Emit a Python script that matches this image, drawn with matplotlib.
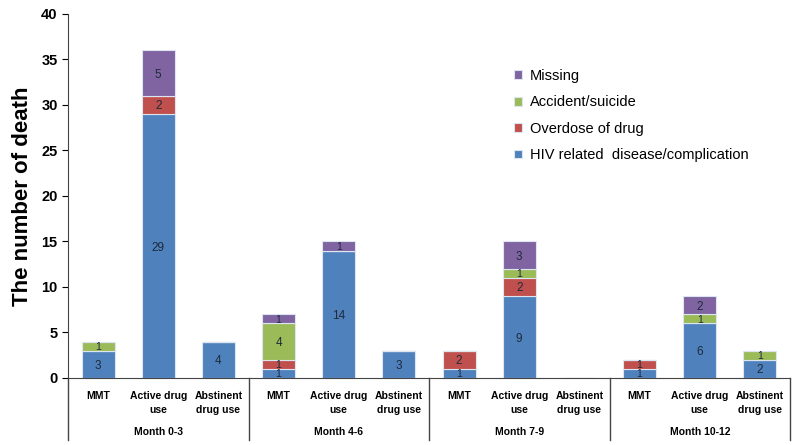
import matplotlib.pyplot as plt
import numpy as np

plt.rcParams["font.family"] = ["Liberation Sans", "DejaVu Sans"]

months = ["Month 0-3", "Month 4-6", "Month 7-9", "Month 10-12"]
groups = ["MMT", "Active drug\nuse", "Abstinent\ndrug use"]

# one value per bar: MMT, Active, Abstinent for each month in order
hiv      = [3, 29, 4,   1, 14, 3,   1, 9, 0,   1, 6, 2]
overdose = [0, 2, 0,    1, 0, 0,    2, 2, 0,   1, 0, 0]
accident = [1, 0, 0,    4, 0, 0,    0, 1, 0,   0, 1, 1]
missing  = [0, 5, 0,    1, 1, 0,    0, 3, 0,   0, 2, 0]

series = [
    ("HIV related  disease/complication", hiv, "#4F81BD"),
    ("Overdose of drug", overdose, "#C0504D"),
    ("Accident/suicide", accident, "#9BBB59"),
    ("Missing", missing, "#8064A2"),
]

fig = plt.figure(figsize=(8, 4.45), dpi=100)
ax = fig.add_axes([0.085, 0.1506, 0.9025, 0.818])

x = np.arange(len(hiv))
bottom = np.zeros(len(hiv))
handles = []
for name, vals, col in series:
    vals = np.array(vals, dtype=float)
    b = ax.bar(x, vals, 0.55, bottom=bottom, color=col, edgecolor="#dde6f0",
               linewidth=0.8, label=name)
    handles.append(b)
    for xi, v, b0 in zip(x, vals, bottom):
        if v > 0:
            # small segments get a slightly smaller label, like the original
            fs = 7.5 if v == 1 else 8.5
            ax.text(xi, b0 + v / 2, f"{int(v)}", ha="center", va="center_baseline",
                    fontsize=fs, color="#1f2a3a")
    bottom += vals

ax.set_xlim(-0.5, 11.5)
ax.set_ylim(0, 40)
ax.set_yticks(range(0, 41, 5))
ax.tick_params(axis="y", labelsize=10.5, length=4, direction="out")
for lab in ax.get_yticklabels():
    lab.set_fontweight("bold")
ax.set_xticks([])
ax.spines["top"].set_visible(False)
ax.spines["right"].set_visible(False)
ax.spines["left"].set_color("#444444")
ax.spines["bottom"].set_color("#444444")
ax.set_ylabel("The number of death", fontsize=16, fontweight="bold", labelpad=6)

tr = ax.get_xaxis_transform()
for i in range(12):
    ax.text(x[i], -0.035, groups[i % 3], transform=tr, ha="center", va="top",
            fontsize=7.5, fontweight="bold", linespacing=1.5)
for m, name in enumerate(months):
    ax.text(3 * m + 1, -0.135, name, transform=tr, ha="center", va="top",
            fontsize=7.5, fontweight="bold")
for s in range(5):
    ax.plot([3 * s - 0.5, 3 * s - 0.5], [0, -0.17], transform=tr,
            color="#444444", linewidth=1, clip_on=False)

ax.legend(handles[::-1], [s[0] for s in series][::-1], loc="upper left",
          bbox_to_anchor=(0.6, 0.885), frameon=False, fontsize=10.5,
          handlelength=0.55, handleheight=0.55, labelspacing=0.85,
          handletextpad=0.5)

fig.savefig("out.png", dpi=100)
